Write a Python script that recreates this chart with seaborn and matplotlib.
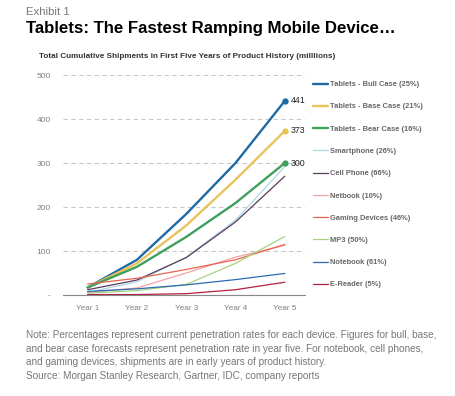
import pandas as pd
import seaborn as sns
import matplotlib.pyplot as plt

# Data (millions, cumulative)
years = ["Year 1", "Year 2", "Year 3", "Year 4", "Year 5"]
series_names = [
    "Tablets - Bull Case (25%)",
    "Tablets - Base Case (21%)",
    "Tablets - Bear Case (16%)",
    "Smartphone (26%)",
    "Cell Phone (66%)",
    "Netbook (10%)",
    "Gaming Devices (46%)",
    "MP3 (50%)",
    "Notebook (61%)",
    "E-Reader (5%)",
]
bull = [17, 80, 184, 300, 441]
base = [17, 72, 158, 262, 373]
bear = [17, 64, 132, 209, 300]
smartphone = [6, 30, 86, 170, 292]
cell_phone = [12, 34, 85, 166, 270]
netbook = [6, 16, 50, 86, 113]
gaming = [25, 38, 58, 80, 115]
mp3 = [4, 10, 24, 72, 133]
notebook = [8, 14, 23, 35, 49]
ereader = [1, 1, 3, 12, 29]
values = [bull, base, bear, smartphone, cell_phone, netbook, gaming, mp3, notebook, ereader]
colors = ["#1d6aa5", "#e9c25c", "#3f9f5c", "#a9d8e2", "#5c3a60",
          "#f2a3a6", "#e8644e", "#a9d27f", "#2c6bb2", "#b3203f"]
widths = [1.7, 1.7, 1.7, 0.9, 0.9, 0.9, 0.9, 0.9, 0.9, 0.9]

rows = []
for name, vals in zip(series_names, values):
    for i, v in enumerate(vals):
        rows.append({"series": name, "x": i, "value": v})
df = pd.DataFrame(rows)

sns.set_theme(style="white")
plt.rcParams["font.family"] = ["Liberation Sans", "DejaVu Sans"]

fig = plt.figure(figsize=(4.56, 3.96), dpi=100)
ax = fig.add_axes([63 / 456, 1 - 295 / 396, 242 / 456, 220 / 396])

for name, col, lw in zip(series_names, colors, widths):
    sns.lineplot(data=df[df["series"] == name], x="x", y="value", color=col,
                 linewidth=lw, label=name, ax=ax)

# end markers and labels for the tablet cases
for vals, col in zip(values[:3], colors[:3]):
    ax.plot(4, vals[-1], marker="o", color=col, markersize=3.5)
    ax.text(4.12, vals[-1], str(vals[-1]), fontsize=6.3, color="#222222",
            va="center", ha="left")

ax.set_xlim(-0.5, 4.41)
ax.set_ylim(0, 500)
ax.set_xticks(range(len(years)))
ax.set_xticklabels(years)
ax.set_yticks([0, 100, 200, 300, 400, 500])
ax.set_yticklabels(["-", "100", "200", "300", "400", "500"])
ax.tick_params(axis="x", labelsize=5.9, colors="#808080", length=0, pad=7)
ax.tick_params(axis="y", labelsize=6.0, colors="#808080", length=0, pad=9)
ax.set_xlabel("")
ax.set_ylabel("")
ax.grid(axis="y", linestyle=(0, (4, 3)), color="#c8c8c8", linewidth=0.8)
for s in ["top", "right", "left"]:
    ax.spines[s].set_visible(False)
ax.spines["bottom"].set_color("#888888")
ax.spines["bottom"].set_linewidth(0.8)

leg = ax.legend(loc="upper left", bbox_to_anchor=(310 / 456, 1 - 78 / 396),
                bbox_transform=fig.transFigure, frameon=False, fontsize=5.4,
                handlelength=2.0, handletextpad=0.3, labelspacing=2.0,
                borderaxespad=0)
for t in leg.get_texts():
    t.set_color("#666666")
    t.set_fontweight("bold")

fig.text(26 / 456, 1 - 12 / 396, "Exhibit 1", fontsize=8.2, color="#777777", va="center")
fig.text(26 / 456, 1 - 29 / 396, "Tablets: The Fastest Ramping Mobile Device\u2026",
         fontsize=12.1, fontweight="bold", color="black", va="center")
fig.text(39 / 456, 1 - 57 / 396,
         "Total Cumulative Shipments in First Five Years of Product History (milllions)",
         fontsize=5.85, fontweight="bold", color="#333333", va="center")
note = ("Note: Percentages represent current penetration rates for each device. Figures for bull, base,\n"
        "and bear case forecasts represent penetration rate in year five. For notebook, cell phones,\n"
        "and gaming devices, shipments are in early years of product history.\n"
        "Source: Morgan Stanley Research, Gartner, IDC, company reports")
fig.text(26 / 456, 1 - 330 / 396, note, fontsize=7.2, color="#777777", va="top",
         linespacing=1.45)

fig.savefig("out.png", dpi=100)
